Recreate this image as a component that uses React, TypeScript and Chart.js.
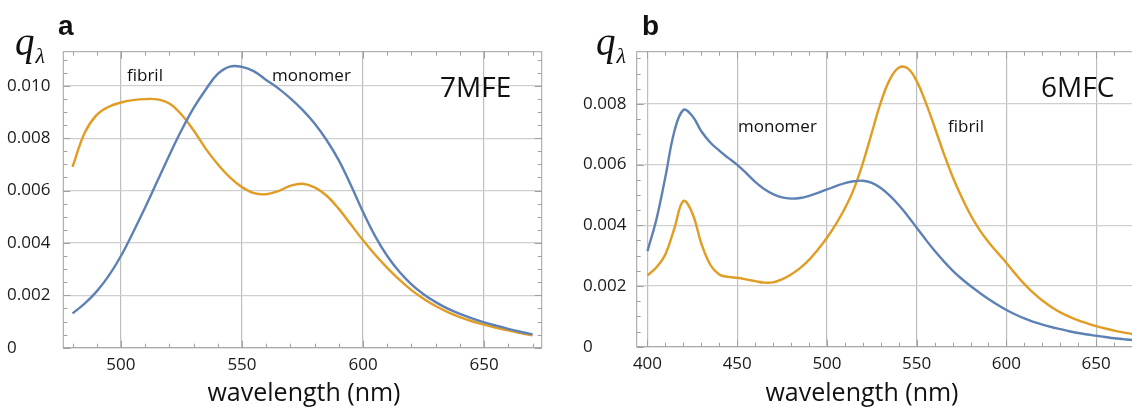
import React, { useEffect, useRef } from "react";
import { Chart, registerables } from "chart.js";

Chart.register(...registerables);

// ---------- Panel a (7MFE) ----------
const WAVELENGTH_A = [
  480, 485, 490, 495, 500, 505, 510, 515, 520, 525, 530, 535, 540, 545, 550, 555, 560, 565, 570, 575,
  580, 585, 590, 595, 600, 605, 610, 615, 620, 625, 630, 635, 640, 645, 650, 655, 660, 665, 670,
];
const MONOMER_A = [
  0.00131, 0.00168, 0.00215, 0.00275, 0.0035, 0.0044, 0.00535, 0.00635, 0.00735, 0.0083, 0.00915, 0.00985,
  0.01045, 0.01073, 0.01072, 0.01055, 0.01022, 0.0099, 0.00952, 0.00908, 0.00856, 0.00792, 0.00715, 0.0062,
  0.00518, 0.00426, 0.0035, 0.0029, 0.00242, 0.00204, 0.00174, 0.00149, 0.00129, 0.00112, 0.00097, 0.00084,
  0.00072, 0.00061, 0.00051,
];
const FIBRIL_A = [
  0.0069, 0.0082, 0.00889, 0.0092, 0.00936, 0.00945, 0.00949, 0.00948, 0.00932, 0.0089, 0.0083, 0.0076, 0.007,
  0.0065, 0.00613, 0.0059, 0.00586, 0.00598, 0.00618, 0.00626, 0.00612, 0.0058, 0.0053, 0.0047, 0.0041, 0.00355,
  0.00305, 0.0026, 0.0022, 0.00187, 0.00159, 0.00136, 0.00117, 0.00101, 0.00088, 0.00076, 0.00066, 0.00056, 0.00047,
];
const X_TICKS_A = [500, 550, 600, 650];
const Y_TICKS_A = [0, 0.002, 0.004, 0.006, 0.008, 0.01];
const Y_LABELS_A = ["0", "0.002", "0.004", "0.006", "0.008", "0.010"];

// ---------- Panel b (6MFC) ----------
const WAVELENGTH_B = [
  400, 405, 410, 415, 420, 425, 430, 435, 440, 445, 450, 455, 460, 465, 470, 475, 480, 485, 490, 495,
  500, 505, 510, 515, 520, 525, 530, 535, 540, 545, 550, 555, 560, 565, 570, 575, 580, 585, 590, 595,
  600, 605, 610, 615, 620, 625, 630, 635, 640, 645, 650, 655, 660, 665, 670, 675, 680, 685, 690, 695, 700,
];
const MONOMER_B = [
  0.00315, 0.0042, 0.0056, 0.0071, 0.0078, 0.0076, 0.0071, 0.00673, 0.00646, 0.00622, 0.00599, 0.00572, 0.00543,
  0.0052, 0.00503, 0.00492, 0.00488, 0.0049, 0.00497, 0.00507, 0.00518, 0.00529, 0.00539, 0.00545, 0.00547,
  0.0054, 0.00523, 0.00498, 0.00467, 0.00431, 0.00392, 0.00353, 0.00316, 0.00282, 0.00251, 0.00224, 0.002,
  0.00178, 0.00157, 0.00138, 0.00121, 0.00106, 0.00093, 0.00082, 0.00073, 0.00065, 0.00058, 0.00051, 0.00045,
  0.0004, 0.00036, 0.00032, 0.00028, 0.00025, 0.00022, 0.0002, 0.00018, 0.00016, 0.00014, 0.00013, 0.00012,
];
const FIBRIL_B = [
  0.00235, 0.00262, 0.00305, 0.0039, 0.0048, 0.0044, 0.0034, 0.0027, 0.00238, 0.0023, 0.00227, 0.00222, 0.00216,
  0.00211, 0.00212, 0.00222, 0.00238, 0.00259, 0.00286, 0.0032, 0.00359, 0.00404, 0.00456, 0.0052, 0.00605,
  0.00705, 0.00805, 0.0088, 0.00919, 0.00917, 0.00875, 0.00805, 0.00723, 0.00638, 0.0056, 0.00493, 0.00434,
  0.00385, 0.00345, 0.0031, 0.00276, 0.0024, 0.00206, 0.00177, 0.00152, 0.00131, 0.00113, 0.00099, 0.00087,
  0.00077, 0.00068, 0.0006, 0.00053, 0.00047, 0.00042, 0.00037, 0.00033, 0.00029, 0.00026, 0.00023, 0.0002,
];
const X_TICKS_B = [400, 450, 500, 550, 600, 650, 700];
const Y_TICKS_B = [0, 0.002, 0.004, 0.006, 0.008];
const Y_LABELS_B = ["0", "0.002", "0.004", "0.006", "0.008"];

const BLUE = "#5E81B5";
const ORANGE = "#E19C24";
const FONT = "'Open Sans', 'Noto Sans', sans-serif";

const framePlugin = {
  id: "frame",
  beforeDatasetsDraw(chart: any, _args: any, opts: any) {
    const { ctx, chartArea: a, scales } = chart;
    const xs = scales.x;
    const ys = scales.y;
    ctx.save();
    ctx.strokeStyle = "#a0a0a0";
    ctx.lineWidth = 1;
    ctx.strokeRect(a.left, a.top, a.right - a.left, a.bottom - a.top);
    ctx.beginPath();
    const xi0 = Math.ceil(xs.min / opts.xMinor);
    const xi1 = Math.floor(xs.max / opts.xMinor);
    for (let i = xi0; i <= xi1; i++) {
      const v = i * opts.xMinor;
      const px = Math.round(xs.getPixelForValue(v)) + 0.5;
      const len = v % opts.xMajor === 0 ? 7 : 4;
      ctx.moveTo(px, a.bottom);
      ctx.lineTo(px, a.bottom - len);
      ctx.moveTo(px, a.top);
      ctx.lineTo(px, a.top + len);
    }
    const yi0 = Math.ceil(ys.min / opts.yMinor - 1e-9);
    const yi1 = Math.floor(ys.max / opts.yMinor + 1e-9);
    for (let i = yi0; i <= yi1; i++) {
      const py = Math.round(ys.getPixelForValue(i * opts.yMinor)) + 0.5;
      const len = i % 4 === 0 ? 7 : 4;
      ctx.moveTo(a.left, py);
      ctx.lineTo(a.left + len, py);
      ctx.moveTo(a.right, py);
      ctx.lineTo(a.right - len, py);
    }
    ctx.stroke();
    ctx.restore();
  },
};

function makeConfig(p: {
  wl: number[];
  monomer: number[];
  fibril: number[];
  xMin: number;
  xMax: number;
  yMax: number;
  xTicks: number[];
  yTicks: number[];
  yLabels: string[];
  padding: { left: number; top: number; right: number; bottom: number };
  yWidth: number;
  xHeight: number;
}): any {
  const line = (vals: number[], color: string, label: string) => ({
    label,
    data: p.wl.map((x, i) => ({ x, y: vals[i] })),
    borderColor: color,
    backgroundColor: color,
    borderWidth: 2.4,
    pointRadius: 0,
    tension: 0.4,
    fill: false,
  });
  return {
    type: "line",
    data: {
      datasets: [line(p.monomer, BLUE, "monomer"), line(p.fibril, ORANGE, "fibril")],
    },
    options: {
      animation: false,
      responsive: false,
      maintainAspectRatio: false,
      layout: { padding: p.padding },
      plugins: {
        legend: { display: false },
        tooltip: { enabled: false },
        frame: { xMinor: 10, xMajor: 50, yMinor: 0.0005 },
      },
      scales: {
        x: {
          type: "linear",
          min: p.xMin,
          max: p.xMax,
          afterBuildTicks: (s: any) => {
            s.ticks = p.xTicks.map((v) => ({ value: v }));
          },
          afterFit: (s: any) => {
            s.height = p.xHeight;
          },
          grid: { color: "#bdbdbd", lineWidth: 1.2, drawTicks: false },
          border: { display: false },
          ticks: {
            padding: 7,
            color: "#1a1a1a",
            font: { family: FONT, size: 17 },
            maxRotation: 0,
            autoSkip: false,
            callback: (v: number) => String(v),
          },
        },
        y: {
          type: "linear",
          min: 0,
          max: p.yMax,
          afterBuildTicks: (s: any) => {
            s.ticks = p.yTicks.map((v) => ({ value: v }));
          },
          afterFit: (s: any) => {
            s.width = p.yWidth;
          },
          grid: { color: "#cfcfcf", lineWidth: 1.2, drawTicks: false },
          border: { display: false },
          ticks: {
            crossAlign: "far",
            color: "#1a1a1a",
            font: { family: FONT, size: 17 },
            autoSkip: false,
            callback: (_v: number, i: number) => p.yLabels[i],
          },
        },
      },
    },
    plugins: [framePlugin],
  };
}

const abs = (extra: React.CSSProperties): React.CSSProperties => ({
  position: "absolute",
  whiteSpace: "nowrap",
  lineHeight: 1,
  color: "#111",
  ...extra,
});

function QLambda({ left }: { left: number }) {
  return (
    <div style={abs({ left, top: 22, fontFamily: "'Liberation Serif', serif", fontStyle: "italic", fontSize: 39 })}>
      q
      <span style={{ fontSize: 22, position: "relative", top: 8, marginLeft: 1 }}>λ</span>
    </div>
  );
}

export default function App() {
  const refA = useRef<HTMLCanvasElement>(null);
  const refB = useRef<HTMLCanvasElement>(null);

  useEffect(() => {
    const a = new Chart(
      refA.current as HTMLCanvasElement,
      makeConfig({
        wl: WAVELENGTH_A,
        monomer: MONOMER_A,
        fibril: FIBRIL_A,
        xMin: 476.2,
        xMax: 673.8,
        yMax: 0.0113,
        xTicks: X_TICKS_A,
        yTicks: Y_TICKS_A,
        yLabels: Y_LABELS_A,
        padding: { left: 7, top: 51.7, right: 18.3, bottom: 0 },
        yWidth: 56.3,
        xHeight: 62.3,
      })
    );
    const b = new Chart(
      refB.current as HTMLCanvasElement,
      makeConfig({
        wl: WAVELENGTH_B,
        monomer: MONOMER_B,
        fibril: FIBRIL_B,
        xMin: 394,
        xMax: 706,
        yMax: 0.00972,
        xTicks: X_TICKS_B,
        yTicks: Y_TICKS_B,
        yLabels: Y_LABELS_B,
        padding: { left: 13, top: 51.7, right: 18.3, bottom: 0 },
        yWidth: 53.7,
        xHeight: 63.3,
      })
    );
    return () => {
      a.destroy();
      b.destroy();
    };
  }, []);

  const label = { fontFamily: FONT, fontSize: 17 };
  const big = { fontFamily: FONT, fontSize: 28 };
  const title = { fontFamily: FONT, fontSize: 25 };
  const bold = { fontFamily: "'Liberation Sans', Arial, sans-serif", fontWeight: 700, fontSize: 28 };

  return (
    <div style={{ position: "absolute", left: 0, top: 0, width: 1132, height: 410, overflow: "hidden", background: "#fff" }}>
      <canvas ref={refA} width={560} height={410} style={{ position: "absolute", left: 0, top: 0, width: 560, height: 410 }} />
      <canvas ref={refB} width={645} height={410} style={{ position: "absolute", left: 570, top: 0, width: 645, height: 410 }} />

      <div style={abs({ ...bold, left: 58, top: 12 })}>a</div>
      <div style={abs({ ...bold, left: 642, top: 12 })}>b</div>
      <QLambda left={15} />
      <QLambda left={596} />

      <div style={abs({ ...label, left: 127, top: 66 })}>fibril</div>
      <div style={abs({ ...label, left: 272, top: 66 })}>monomer</div>
      <div style={abs({ ...big, left: 440, top: 72 })}>7MFE</div>

      <div style={abs({ ...label, left: 738, top: 117 })}>monomer</div>
      <div style={abs({ ...label, left: 948, top: 117 })}>fibril</div>
      <div style={abs({ ...big, left: 1041, top: 72 })}>6MFC</div>

      <div style={abs({ ...title, left: 304, top: 379, transform: "translateX(-50%)" })}>wavelength (nm)</div>
      <div style={abs({ ...title, left: 862, top: 379, transform: "translateX(-50%)" })}>wavelength (nm)</div>
    </div>
  );
}
